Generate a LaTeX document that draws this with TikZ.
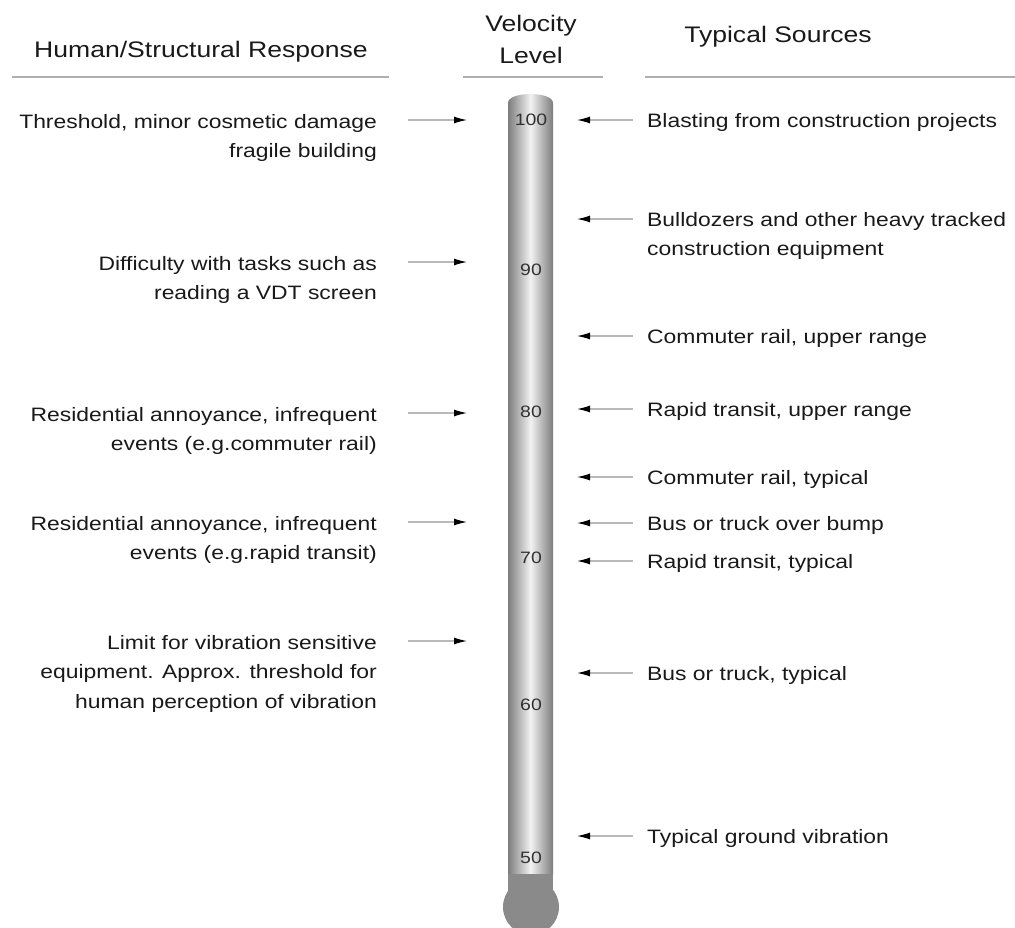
\documentclass[tikz,border=0pt]{standalone}
\usepackage{fontspec}
\setmainfont{Liberation Sans}[FakeStretch=1.18]
\usetikzlibrary{arrows.meta,positioning}

\definecolor{txtgray}{RGB}{25,25,25}
\definecolor{rulegray}{RGB}{175,175,175}
\definecolor{tubeedge}{RGB}{125,125,125}
\definecolor{tubelight}{RGB}{242,242,242}
\definecolor{bulbgray}{RGB}{138,138,138}
\definecolor{numgray}{RGB}{50,50,50}

\begin{document}
\begin{tikzpicture}[x=1pt,y=-1pt,
  resp/.style={align=right,anchor=north east,inner sep=0pt,text=txtgray,
    font=\fontsize{19.4}{29.5}\selectfont},
  src/.style={align=left,anchor=north west,inner sep=0pt,text=txtgray,
    font=\fontsize{19.4}{29.5}\selectfont},
  head/.style={align=center,inner sep=0pt,text=txtgray,
    font=\fontsize{22.5}{32}\selectfont},
  level/.style={inner sep=0pt,text=numgray,font=\fontsize{16.5}{18}\selectfont},
  pointer/.style={draw=gray!55,line width=1.2pt,-{Latex[black,length=13pt,width=7pt]}},
  rule/.style={draw=rulegray,line width=1.5pt}]

\clip (0,0) rectangle (1015,927);

% headings
\node[head] (hresp) at (201,52) {Human/Structural Response};
\node[head] (hlevel) at (531,39) {Velocity\\Level};
\node[head] (hsrc) at (778,37) {Typical Sources};
\draw[rule] (12,77) -- (389,77);
\draw[rule] (463,77) -- (603,77);
\draw[rule] (645,77) -- (1015,77);

% the thermometer
\shade[left color=tubeedge,right color=tubeedge,middle color=tubelight]
  (508,875) -- (508,103) .. controls (508,91) and (553,91) .. (553,103) -- (553,875) -- cycle;
\fill[bulbgray] (508,874) rectangle (553,895);
\fill[bulbgray] (531,907) circle (28);

\def\levels{100/120,90/270,80/412,70/558,60/705,50/858}
\foreach \v / \y in \levels
  \node[level] (v\v) at (531,\y) {\v};

% human / structural response
\def\resplist{1/120/{Threshold, minor cosmetic damage\\fragile building},
  2/262/{Difficulty with tasks such as\\reading a VDT screen},
  3/413/{Residential annoyance, infrequent\\events (e.g.commuter rail)},
  4/522/{Residential annoyance, infrequent\\events (e.g.rapid transit)},
  5/641/{Limit for vibration sensitive\\equipment. Approx. threshold for\\human perception of vibration}}
\foreach \i / \y / \element in \resplist {
  \node[resp] (r\i) at (377,\y-6) {\element};
  \coordinate (rs\i) at (408,\y);
  \coordinate (re\i) at (467,\y);
  \draw[pointer] (rs\i) -- (re\i);
}

% typical sources
\def\srclist{1/120/{Blasting from construction projects},
  2/219/{Bulldozers and other heavy tracked\\construction equipment},
  3/336/{Commuter rail, upper range},
  4/409/{Rapid transit, upper range},
  5/477/{Commuter rail, typical},
  6/523/{Bus or truck over bump},
  7/561/{Rapid transit, typical},
  8/673/{Bus or truck, typical},
  9/836/{Typical ground vibration}}
\foreach \i / \y / \element in \srclist {
  \node[src] (s\i) at (647,\y-7) {\element};
  \coordinate (ss\i) at (633,\y);
  \coordinate (se\i) at (577,\y);
  \draw[pointer] (ss\i) -- (se\i);
}

\end{tikzpicture}
\end{document}
